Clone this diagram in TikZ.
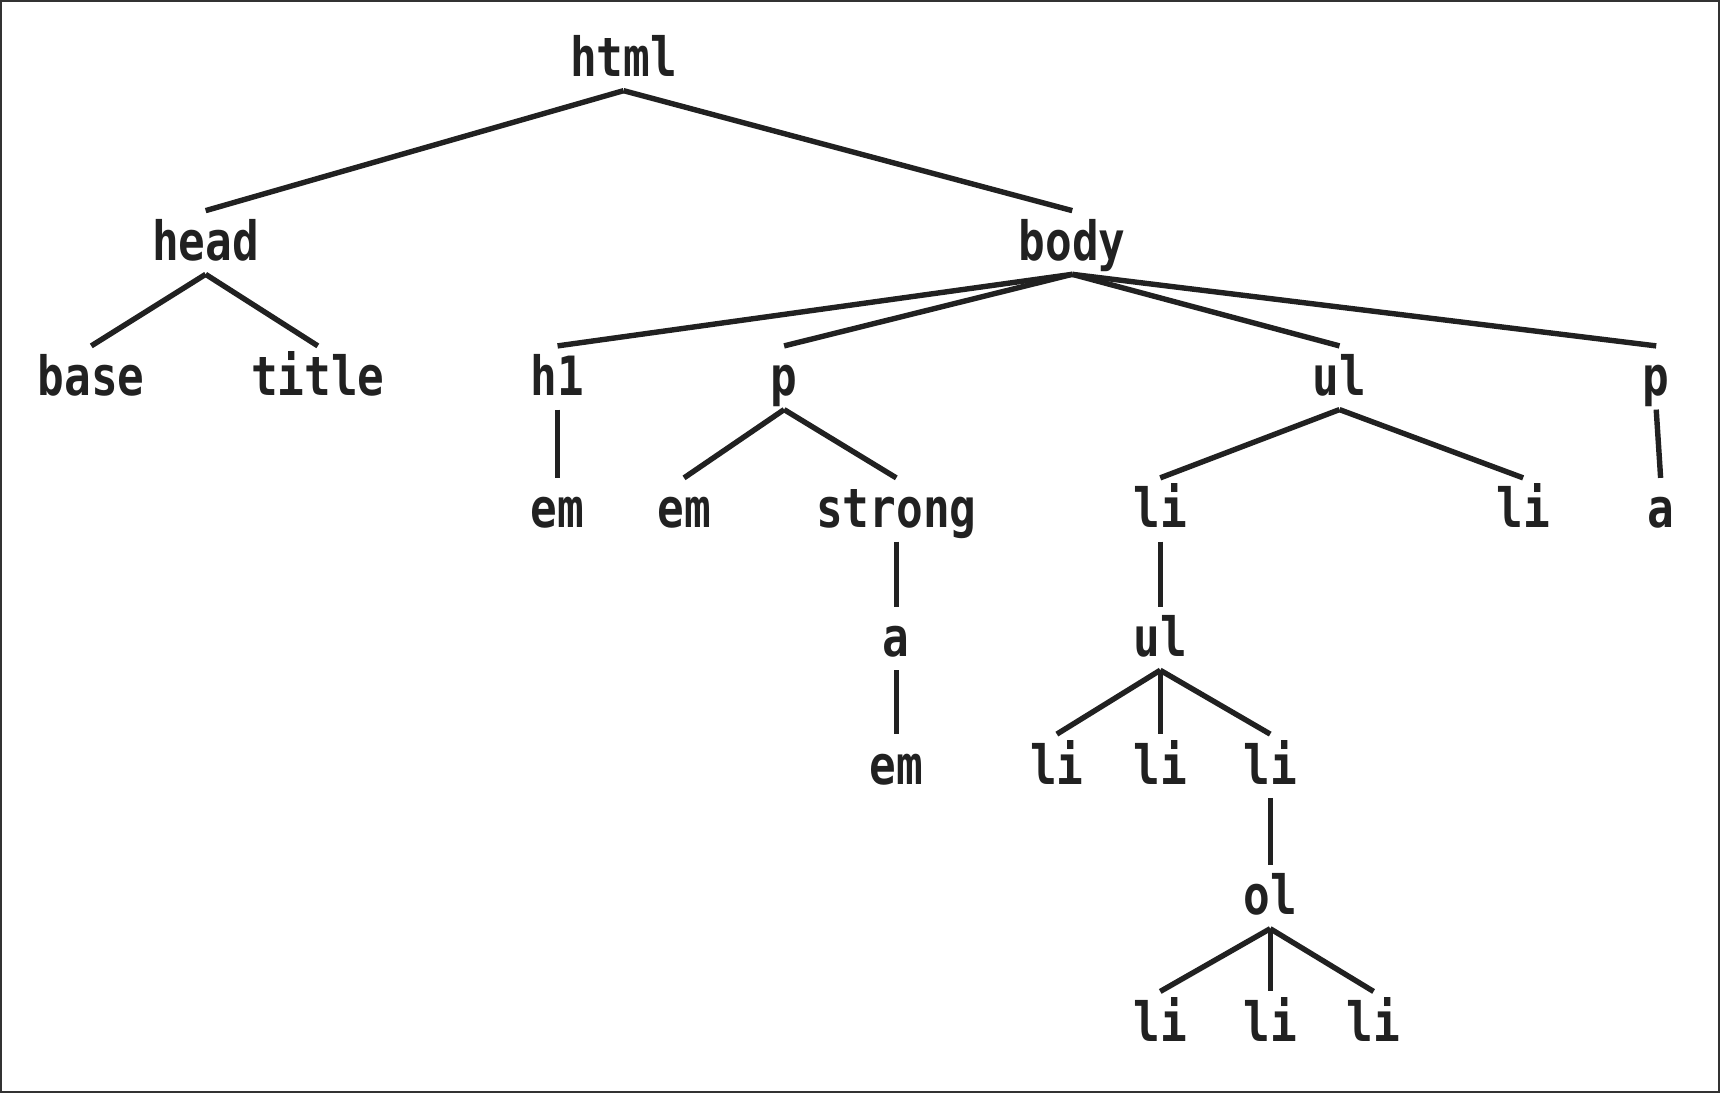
\documentclass[tikz,border=0pt]{standalone}
\usepackage{fontspec}
\newfontfamily\tagfont[FakeStretch=0.82]{DejaVu Sans Mono}
\usetikzlibrary{positioning}

\begin{document}
\begin{tikzpicture}[line width=1.4pt]
\tikzstyle{tag} = [inner sep=0pt,anchor=base,text height=0.43cm,text depth=0.10cm,text=black!87,font=\tagfont\bfseries\fontsize{14}{16}\selectfont]
\tikzstyle{edge} = [draw=black!87]
\useasboundingbox (0,0) rectangle (15.64,-9.94);
\draw[line width=0.6pt,black!80] (0.01,-0.01) rectangle (15.63,-9.93);
\node[tag] (html) at (5.67,-0.70) {html};
\node[tag] (head) at (1.87,-2.37) {head};
\node[tag] (body) at (9.75,-2.37) {body};
\node[tag] (base) at (0.83,-3.60) {base};
\node[tag] (title) at (2.89,-3.60) {title};
\node[tag] (h1) at (5.07,-3.60) {h1};
\node[tag] (pa) at (7.13,-3.60) {p};
\node[tag] (ula) at (12.18,-3.60) {ul};
\node[tag] (pb) at (15.06,-3.60) {p};
\node[tag] (emA) at (5.07,-4.80) {em};
\node[tag] (emB) at (6.22,-4.80) {em};
\node[tag] (strong) at (8.15,-4.80) {strong};
\node[tag] (liA) at (10.55,-4.80) {li};
\node[tag] (liB) at (13.85,-4.80) {li};
\node[tag] (aB) at (15.10,-4.80) {a};
\node[tag] (aA) at (8.15,-5.97) {a};
\node[tag] (ulb) at (10.55,-5.97) {ul};
\node[tag] (emC) at (8.15,-7.13) {em};
\node[tag] (liC) at (9.61,-7.13) {li};
\node[tag] (liD) at (10.55,-7.13) {li};
\node[tag] (liE) at (11.55,-7.13) {li};
\node[tag] (ol) at (11.55,-8.32) {ol};
\node[tag] (liF) at (10.55,-9.47) {li};
\node[tag] (liG) at (11.55,-9.47) {li};
\node[tag] (liH) at (12.49,-9.47) {li};
\foreach \from/\to in {html/head,html/body,head/base,head/title,
  body/h1,body/pa,body/ula,body/pb,h1/emA,pa/emB,pa/strong,
  ula/liA,ula/liB,pb/aB,strong/aA,aA/emC,liA/ulb,
  ulb/liC,ulb/liD,ulb/liE,liE/ol,ol/liF,ol/liG,ol/liH}
  \draw[edge] (\from.south) -- (\to.north);
\end{tikzpicture}
\end{document}
